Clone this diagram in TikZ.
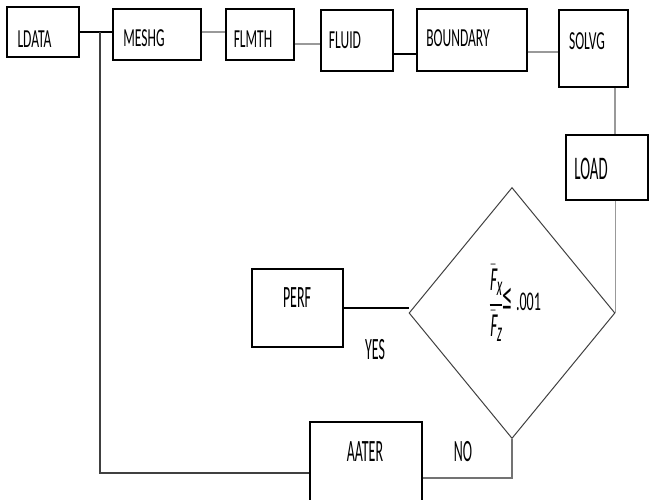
\documentclass[tikz,border=0pt]{standalone}
\usepackage{fontspec}
\usepackage{amsmath}
\usepackage{graphicx}
\usetikzlibrary{shapes.geometric}
\newfontfamily\narrowfont[FakeStretch=0.52]{Carlito}
\newfontfamily\narrowerfont[FakeStretch=0.45]{Carlito}
\newfontfamily\carlsl[FakeSlant=0.2]{Carlito}
\newcommand{\cit}[1]{\text{\carlsl #1}}

\begin{document}
\begin{tikzpicture}[x=1pt, y=-1pt,
  chap/.style={draw, line width=1.3pt, inner sep=0pt},
  dec/.style={diamond, draw=black!75, line width=1pt, inner sep=0pt,
    minimum width=206pt, minimum height=251pt},
  lbl/.style={inner sep=0pt, font=\narrowfont\fontsize{26}{28}\selectfont},
  biglbl/.style={inner sep=0pt, font=\narrowerfont\fontsize{31}{33}\selectfont},
  dark/.style={line width=1.2pt},
  pale/.style={line width=1.5pt, black!40}]
  \useasboundingbox (0,0) rectangle (649,499);
  \clip (0,0) rectangle (649,499);
  % blocks
  \node[chap, minimum width=72pt, minimum height=50pt] (ldata) at (43,32) {};
  \node[chap, minimum width=88pt, minimum height=51pt] (meshg) at (157,34.5) {};
  \node[chap, minimum width=68pt, minimum height=51pt] (flmth) at (260,34.5) {};
  \node[chap, minimum width=72pt, minimum height=61pt] (fluid) at (357,40.5) {};
  \node[chap, minimum width=110pt, minimum height=62pt] (boundary) at (472,40) {};
  \node[chap, minimum width=69pt, minimum height=77pt] (solvg) at (593.5,48.5) {};
  \node[chap, minimum width=82pt, minimum height=65pt] (load) at (607,167.5) {};
  \node[chap, minimum width=91pt, minimum height=78pt] (perf) at (297.5,308) {};
  \node[chap, minimum width=112pt, minimum height=106pt] (aater) at (366,475) {};
  \node[dec] (cond) at (512,313) {};
  % texts
  \node[lbl] (ldata-t) at (34.5,39) {LDATA};
  \node[lbl] (meshg-t) at (144,38.5) {MESHG};
  \node[lbl] (flmth-t) at (253,39) {FLMTH};
  \node[lbl] (fluid-t) at (345,40) {FLUID};
  \node[lbl] (boundary-t) at (458,38) {BOUNDARY};
  \node[lbl] (solvg-t) at (587,41) {SOLVG};
  \node[biglbl, font=\narrowerfont\fontsize{33}{35}\selectfont] (load-t) at (591,169) {LOAD};
  \node[biglbl] (perf-t) at (297,298) {PERF};
  \node[biglbl] (aater-t) at (365,452) {AATER};
  \node[biglbl] (yes) at (375,350) {YES};
  \node[biglbl] (no) at (463,452) {NO};
  \node[inner sep=0pt] (cond-t) at (515,303)
    {\fontsize{24.88}{28}\selectfont\scalebox{0.58}[1.35]{$\dfrac{\bar{\cit{F}}_{\cit{x}}}{\bar{\cit{F}}_{\cit{z}}}$}\raisebox{3pt}{\narrowfont\fontsize{27}{29}\selectfont\scalebox{1.5}{≤}\hspace{3pt}.001}};
  % connectors
  \coordinate (jn) at (100,32);
  \draw[dark] (ldata.east) -- (ldata.east -| meshg.west);
  \draw[pale] (meshg.east |- 0,32) -- (flmth.west |- 0,32);
  \draw[pale] (flmth.east |- 0,44) -- (fluid.west |- 0,44);
  \draw[dark] (fluid.east |- 0,54) -- (boundary.west |- 0,54);
  \draw[pale] (boundary.east |- 0,52) -- (solvg.west |- 0,52);
  \draw[pale] (solvg.south -| 615,0) -- (load.north -| 615,0);
  \draw[pale] (load.south -| cond.east) -- (cond.east);
  \draw[dark] (perf.east) -- (perf.east -| cond.west);
  \draw[pale, black!55] (cond.south) |- ([yshift=-3pt]aater.east);
  \draw[dark, black!75] (jn) |- ([yshift=2pt]aater.west);
\end{tikzpicture}
\end{document}
